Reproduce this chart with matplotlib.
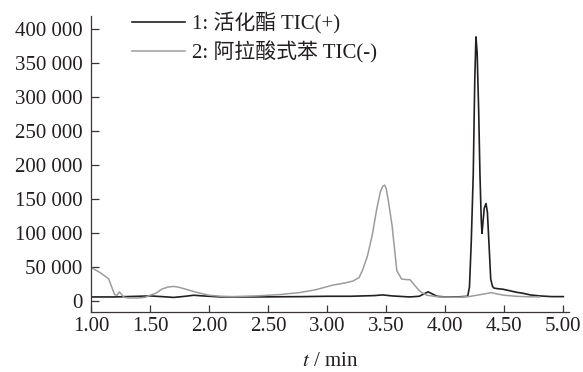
import matplotlib
matplotlib.use('Agg')
import matplotlib.pyplot as plt
from matplotlib.ticker import FuncFormatter, MultipleLocator

plt.rcParams['font.family'] = ['Liberation Serif', 'Noto Sans CJK SC']
plt.rcParams['mathtext.fontset'] = 'stix'

# 1: 活化酯 TIC(+)
t1 = [1.00, 1.20, 1.40, 1.50, 1.60, 1.70, 1.80, 1.87, 1.95, 2.10, 2.40, 2.80,
      3.00, 3.20, 3.40, 3.47, 3.55, 3.70, 3.78, 3.82, 3.855, 3.89, 3.93, 4.00,
      4.10, 4.19, 4.205, 4.22, 4.237, 4.25, 4.26, 4.27, 4.283, 4.294, 4.305,
      4.311, 4.318, 4.33, 4.345, 4.357, 4.37, 4.385, 4.40, 4.413, 4.45, 4.49,
      4.55, 4.60, 4.66, 4.72, 4.80, 4.90, 5.00]
y1 = [5500, 5500, 6500, 7000, 6000, 4800, 6500, 8000, 7000, 5500, 5500, 6000,
      6500, 6500, 7500, 8500, 7000, 5500, 6500, 10000, 13000, 10000, 6500, 5500,
      5500, 6500, 20000, 85000, 185000, 325000, 388000, 365000, 280000, 185000, 118000,
      99000, 112000, 136000, 143000, 130000, 85000, 32000, 21000, 18500, 17500, 16800,
      14500, 12500, 10800, 8500, 7000, 6000, 6000]

# 2: 阿拉酸式苯 TIC(-)
t2 = [1.00, 1.04, 1.08, 1.12, 1.15, 1.18, 1.20, 1.22, 1.24, 1.26, 1.28, 1.32,
      1.40, 1.46, 1.50, 1.55, 1.60, 1.65, 1.70, 1.75, 1.80, 1.90, 2.00, 2.10,
      2.20, 2.40, 2.60, 2.77, 2.90, 3.05, 3.15, 3.22, 3.27, 3.30, 3.34, 3.38,
      3.42, 3.45, 3.47, 3.486, 3.50, 3.52, 3.55, 3.59, 3.63, 3.67, 3.70, 3.73,
      3.775, 3.80, 3.845, 3.95, 4.10, 4.20, 4.30, 4.39, 4.45, 4.50, 4.60, 4.66, 4.80]
y2 = [49000, 45000, 41000, 36000, 32000, 18000, 9000, 8000, 13000, 9000, 5000, 4000,
      4000, 5000, 8000, 11000, 17000, 20000, 21000, 19500, 17000, 12000, 8000, 6500,
      6000, 7000, 9000, 12000, 16000, 23000, 26000, 29000, 34000, 45000, 65000, 95000,
      135000, 160000, 168000, 170000, 165000, 145000, 110000, 44000, 32000, 31000, 31000, 25000,
      15700, 12000, 8000, 5500, 5000, 6000, 9000, 11800, 9500, 8000, 6500, 6000, 5500]

series = [(t1, y1, '#231f20', 1.2, '1: 活化酯 TIC(+)'),
          (t2, y2, '#9c9c9c', 1.1, '2: 阿拉酸式苯 TIC(-)')]

fig = plt.figure(figsize=(5.83, 3.72), dpi=100)
ax = fig.add_axes([91 / 583, 1 - 311.7 / 372, (569 - 91) / 583, (311.7 - 16) / 372])

for t, y, c, lw, lab in series:
    ax.plot(t, y, color=c, linewidth=lw, label=lab)

ax.set_xlim(1.0, 5.048)
ax.set_ylim(-16200, 418700)
ax.xaxis.set_major_locator(MultipleLocator(0.5))
ax.yaxis.set_major_locator(MultipleLocator(50000))
ax.xaxis.set_major_formatter(FuncFormatter(lambda v, p: f'{v:.2f}'))
ax.yaxis.set_major_formatter(FuncFormatter(lambda v, p: f'{v:,.0f}'.replace(',', ' ')))

spine_c = '#3b3535'
for s in ['top', 'right']:
    ax.spines[s].set_visible(False)
for s in ['left', 'bottom']:
    ax.spines[s].set_color(spine_c)
    ax.spines[s].set_linewidth(0.9)
ax.tick_params(axis='both', direction='in', colors=spine_c, labelcolor='#231f20',
               labelsize=15, width=0.9)
ax.tick_params(axis='x', length=4.8, pad=4)
ax.tick_params(axis='y', length=5.5, pad=6)

ax.set_xlabel('$t$ / min', fontsize=15, labelpad=11, color='#231f20')

leg = ax.legend(loc='upper left', bbox_to_anchor=(0.068, 1.04), frameon=False,
                fontsize=15, handlelength=2.55, handletextpad=0.35, labelspacing=0.3,
                borderaxespad=0)
for txt in leg.get_texts():
    txt.set_color('#231f20')

fig.savefig('out.png', dpi=100)
